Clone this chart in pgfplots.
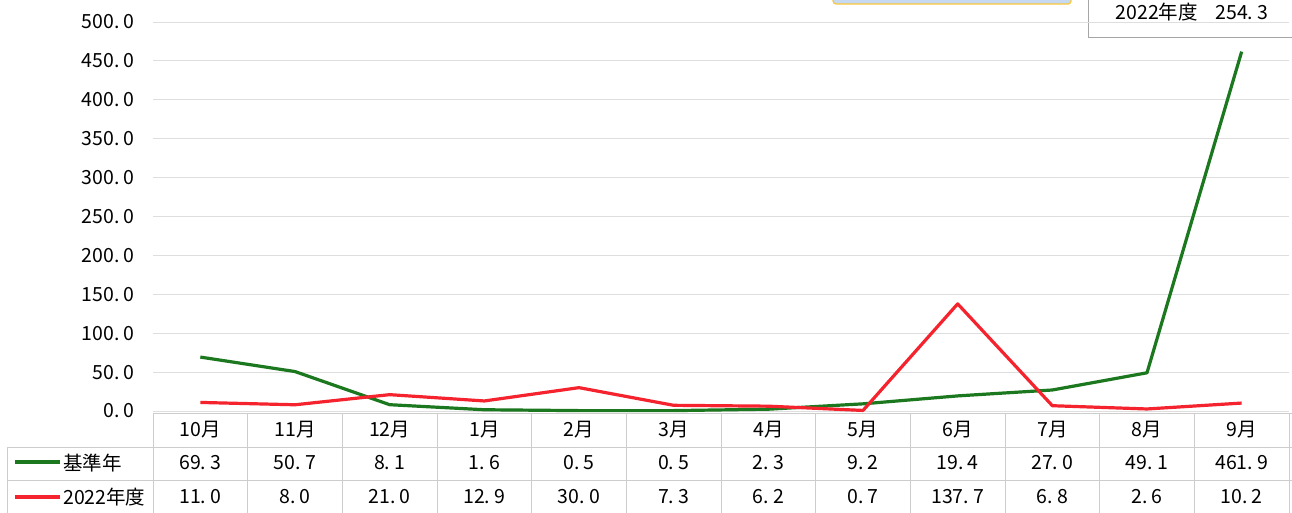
\documentclass[border=0pt]{standalone}
\usepackage{pgfplots}
\pgfplotsset{compat=1.18}
\usepackage{pgfplotstable}
\usepackage{fontspec}
\setmainfont{Noto Sans CJK JP}
\definecolor{cgreen}{RGB}{28,120,30}
\definecolor{cred}{RGB}{245,35,45}
\definecolor{gridc}{RGB}{222,222,222}
\definecolor{tabc}{RGB}{205,205,205}
\definecolor{boxblue}{RGB}{198,217,240}
\definecolor{boxgold}{RGB}{250,200,60}
\pgfplotstableread{
x base fy
0 69.3 11.0
1 50.7 8.0
2 8.1 21.0
3 1.6 12.9
4 0.5 30.0
5 0.5 7.3
6 2.3 6.2
7 9.2 0.7
8 19.4 137.7
9 27.0 6.8
10 49.1 2.6
11 461.9 10.2
}\datatable
\def\sp{\hspace{0.22em}}
\begin{document}
\begin{tikzpicture}[x=1pt,y=1pt,font=\fontsize{19.5}{21}\selectfont]
\path[use as bounding box] (0,0) rectangle (1292,513);
% top boxes (cut off)
\draw[boxgold,fill=boxblue,line width=1.2pt,rounded corners=3pt] (833,509) rectangle (1071,540);
\draw[gray!70,fill=white,line width=0.8pt] (1088,476) rectangle (1310,540);
\node at (1192,501) {2022年度\hspace{0.9em}254.\sp 3};
\begin{axis}[at={(153pt,102pt)}, anchor=south west, scale only axis,
  width=1136pt, height=389pt, xmin=-0.5, xmax=11.5, ymin=0, ymax=500,
  axis line style={draw=none}, xtick=\empty,
  ytick={0,50,...,500},
  yticklabels={0.\sp 0,50.\sp 0,100.\sp 0,150.\sp 0,200.\sp 0,250.\sp 0,300.\sp 0,350.\sp 0,400.\sp 0,450.\sp 0,500.\sp 0},
  major tick length=0pt, ymajorgrids, grid style={gridc,line width=0.8pt},
  yticklabel style={anchor=east,inner sep=0pt,xshift=-18pt,font=\fontsize{19.5}{21}\selectfont},
  clip=false]
\addplot[cgreen,line width=3.2pt,line join=round] table[x=x,y=base]{\datatable};
\addplot[cred,line width=3.2pt,line join=round] table[x=x,y=fy]{\datatable};
\end{axis}
% data table
\draw[tabc,line width=0.8pt] (153,100) -- (1292,100);
\draw[tabc,line width=0.8pt] (7,66) -- (1292,66);
\draw[tabc,line width=0.8pt] (7,33) -- (1292,33);
\draw[tabc,line width=0.8pt] (7,0) -- (7,66);
\foreach \k in {0,...,12} \draw[tabc,line width=0.8pt] ({153+94.67*\k},0) -- ({153+94.67*\k},100);
\foreach \m [count=\i from 0] in {10月,11月,12月,1月,2月,3月,4月,5月,6月,7月,8月,9月}
  \node at ({153+94.67*(\i+0.5)},83) {\m};
\foreach \v [count=\i from 0] in {69.\sp 3,50.\sp 7,8.\sp 1,1.\sp 6,0.\sp 5,0.\sp 5,2.\sp 3,9.\sp 2,19.\sp 4,27.\sp 0,49.\sp 1,461.\sp 9}
  \node at ({153+94.67*(\i+0.5)},50) {\v};
\foreach \v [count=\i from 0] in {11.\sp 0,8.\sp 0,21.\sp 0,12.\sp 9,30.\sp 0,7.\sp 3,6.\sp 2,0.\sp 7,137.\sp 7,6.\sp 8,2.\sp 6,10.\sp 2}
  \node at ({153+94.67*(\i+0.5)},16) {\v};
% legend keys
\draw[cgreen,line width=3.2pt] (15,51) -- (60,51);
\node[anchor=west,inner sep=0pt] at (63,50) {基準年};
\draw[cred,line width=3.2pt] (15,16) -- (60,16);
\node[anchor=west,inner sep=0pt] at (63,16) {2022年度};
\end{tikzpicture}
\end{document}
